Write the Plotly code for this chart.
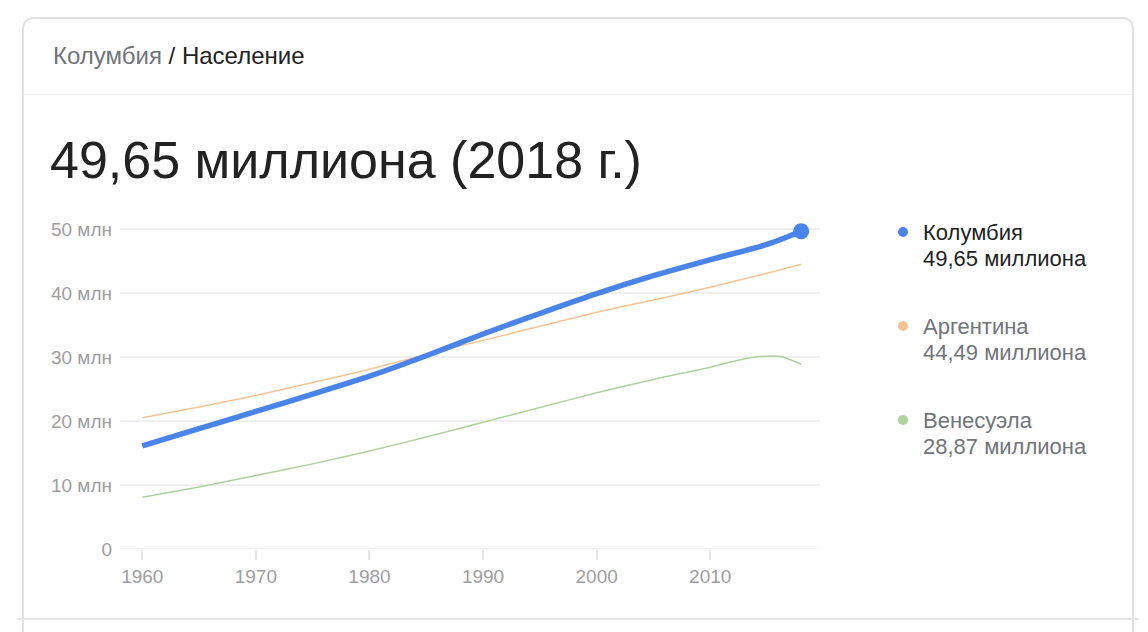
import plotly.graph_objects as go

# Chart data (population, millions)
years_col = [1960, 1965, 1970, 1975, 1980, 1985, 1990, 1995, 2000, 2005, 2010, 2015, 2018]
colombia = [16.1, 18.8, 21.5, 24.2, 27.0, 30.2, 33.6, 36.8, 39.9, 42.7, 45.2, 47.6, 49.65]

years_arg = [1960, 1965, 1970, 1975, 1980, 1985, 1990, 1995, 2000, 2005, 2010, 2015, 2018]
argentina = [20.5, 22.2, 24.0, 26.0, 28.1, 30.4, 32.6, 34.8, 37.0, 38.9, 40.9, 43.1, 44.49]

years_ven = [1960, 1965, 1970, 1975, 1980, 1985, 1990, 1995, 2000, 2005, 2010, 2012, 2014, 2016, 2017, 2018]
venezuela = [8.1, 9.7, 11.5, 13.3, 15.3, 17.5, 19.8, 22.1, 24.4, 26.5, 28.4, 29.3, 30.0, 30.1, 29.6, 28.87]

names = ['Колумбия', 'Аргентина', 'Венесуэла']
y_ticks = [0, 10, 20, 30, 40, 50]
y_tick_text = ['0', '10 млн', '20 млн', '30 млн', '40 млн', '50 млн']
x_ticks = [1960, 1970, 1980, 1990, 2000, 2010]

colors = ['#4a84ea', '#f5c394', '#add29c']
FONT = 'Liberation Sans, Arial, sans-serif'

# Page geometry in window pixels (the page body adds an 8px offset)
OFF = 8
W, H = 1148 - OFF, 632 - OFF
PL, PR, PT, PB = 120, 820, 215, 549


def px(x):
    return (x - PL) / (PR - PL)


def py(y):
    return (PB - y) / (PB - PT)


fig = go.Figure()

fig.add_trace(go.Scatter(x=years_ven, y=venezuela, mode='lines', line=dict(color=colors[2], width=1.5, shape='spline', smoothing=0.8), hoverinfo='skip'))
fig.add_trace(go.Scatter(x=years_arg, y=argentina, mode='lines', line=dict(color=colors[1], width=1.5, shape='spline', smoothing=0.5), hoverinfo='skip'))
fig.add_trace(go.Scatter(x=years_col, y=colombia, mode='lines', line=dict(color=colors[0], width=5.5, shape='spline', smoothing=0.8), hoverinfo='skip'))
fig.add_trace(go.Scatter(x=[years_col[-1]], y=[colombia[-1]], mode='markers', marker=dict(color=colors[0], size=16), cliponaxis=False, hoverinfo='skip'))

shapes = []
# Baseline at zero
shapes.append(dict(type='line', xref='paper', yref='y', x0=0, x1=1, y0=0, y1=0, layer='below',
                   line=dict(color='#efefef', width=1.5)))
# Card border (rounded top corners)
shapes.append(dict(type='path', xref='paper', yref='paper',
                   path='M {},{} L {},{} Q {},{} {},{} L {},{} Q {},{} {},{} L {},{}'.format(
                       px(23), py(650), px(23), py(30), px(23), py(18), px(35), py(18),
                       px(1121), py(18), px(1133), py(18), px(1133), py(30), px(1133), py(650)),
                   line=dict(color='#dfe1e5', width=2)))
shapes.append(dict(type='line', xref='paper', yref='paper', x0=px(23), x1=px(1133), y0=py(94.5), y1=py(94.5),
                   line=dict(color='#ebebeb', width=1)))
shapes.append(dict(type='line', xref='paper', yref='paper', x0=px(17), x1=px(1139), y0=py(619), y1=py(619),
                   line=dict(color='#e6e6e6', width=2)))

annotations = []
annotations.append(dict(xref='paper', yref='paper', x=px(51), y=py(55), xanchor='left', yanchor='middle',
                        text="<span style='color:#70757a'>Колумбия</span> / Население", showarrow=False,
                        font=dict(family=FONT, size=24, color='#222222')))
annotations.append(dict(xref='paper', yref='paper', x=px(48), y=py(160), xanchor='left', yanchor='middle',
                        text='{} миллиона ({} г.)'.format(('%.2f' % colombia[-1]).replace('.', ','), years_col[-1]),
                        showarrow=False, font=dict(family=FONT, size=52, color='#222222')))

# Custom legend
last_vals = [colombia[-1], argentina[-1], venezuela[-1]]
for i, (name, val) in enumerate(zip(names, last_vals)):
    top = 232 + i * 94
    txt_color = '#222222' if i == 0 else '#70757a'
    shapes.append(dict(type='circle', xref='paper', yref='paper', xsizemode='pixel', ysizemode='pixel',
                       xanchor=px(903), yanchor=py(top), x0=-5, x1=5, y0=-5, y1=5,
                       fillcolor=colors[i], line=dict(width=0)))
    annotations.append(dict(xref='paper', yref='paper', x=px(921), y=py(top), xanchor='left', yanchor='middle',
                            text=name, showarrow=False, font=dict(family=FONT, size=22, color=txt_color)))
    annotations.append(dict(xref='paper', yref='paper', x=px(921), y=py(top + 26), xanchor='left', yanchor='middle',
                            text=('%.2f' % val).replace('.', ',') + ' миллиона', showarrow=False,
                            font=dict(family=FONT, size=22, color=txt_color)))

fig.update_layout(
    width=W, height=H,
    margin=dict(l=PL - OFF, r=W - (PR - OFF), t=PT - OFF, b=H - (PB - OFF), pad=0),
    paper_bgcolor='white', plot_bgcolor='white',
    showlegend=False,
    shapes=shapes, annotations=annotations,
    font=dict(family=FONT, size=19, color='#9e9e9e'),
    xaxis=dict(range=[1958.04, 2019.66], tickvals=x_ticks, ticks='outside', ticklen=10, tickcolor='#e6e6e6',
               tickwidth=1.5, showgrid=False, zeroline=False, showline=False, fixedrange=True,
               tickfont=dict(size=19, color='#9e9e9e')),
    yaxis=dict(range=[0, (PB - PT) / 6.4], tickvals=y_ticks, ticktext=y_tick_text, showgrid=True,
               gridcolor='#efefef', gridwidth=1.5, zeroline=False, showline=False, ticks='', fixedrange=True,
               ticklabelstandoff=7, tickfont=dict(size=19, color='#9e9e9e')),
)

fig.write_html("out.html", config={'displayModeBar': False})
